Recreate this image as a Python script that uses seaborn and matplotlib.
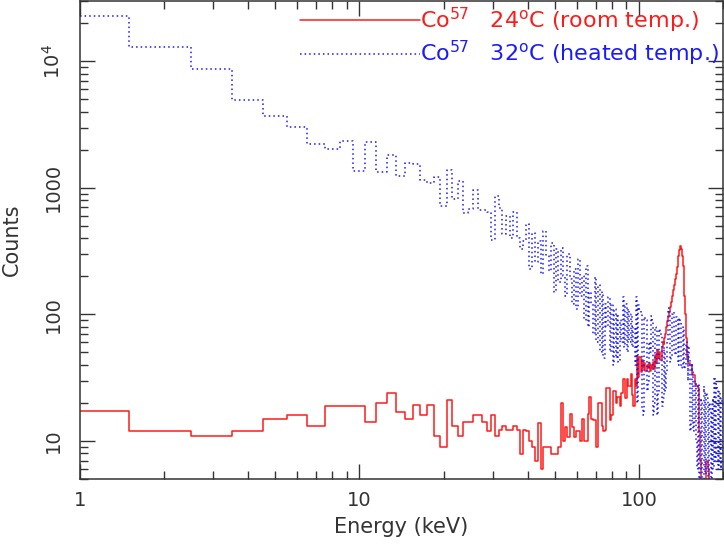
import numpy as np
import pandas as pd
import matplotlib
matplotlib.use('Agg')
import matplotlib.pyplot as plt
import seaborn as sns

# energy bins (keV), 1 keV wide, centred on integers
energy = list(range(1, 201))

# Co57 spectrum at 24 C (room temp.)
room_counts = [
    17.1, 12.0, 11.0, 12.0, 14.9, 15.9, 13.0, 18.9, 18.9, 18.9,
    14.0, 19.9, 24.0, 16.9, 14.9, 19.1, 16.0, 19.1, 10.9, 9.0,
    21.0, 13.0, 10.9, 14.0, 14.0, 16.0, 16.0, 14.0, 11.9, 16.0,
    10.9, 12.2, 13.1, 12.2, 12.2, 13.1, 12.2, 7.9, 12.2, 12.0,
    10.0, 9.0, 7.0, 13.9, 6.0, 9.0, 9.0, 9.0, 7.9, 7.9,
    7.9, 9.0, 20.0, 10.0, 12.9, 10.7, 16.3, 12.9, 10.7, 12.0,
    12.0, 10.0, 14.9, 10.0, 10.0, 16.3, 22.3, 15.0, 14.6, 14.6,
    9.0, 19.8, 19.8, 13.0, 12.0, 12.2, 26.0, 26.0, 14.5, 16.0,
    25.0, 25.0, 19.8, 22.3, 22.3, 19.0, 24.0, 31.0, 31.0, 22.0,
    31.0, 27.0, 27.0, 34.0, 23.0, 19.0, 31.0, 27.0, 46.0, 32.0,
    46, 35, 44, 38, 41, 36, 40, 38, 41, 36,
    40, 38, 42, 37, 48, 41, 52, 45, 50, 44,
    55, 60, 58, 65, 70, 80, 88, 95, 105, 115,
    125, 140, 155, 170, 190, 210, 235, 260, 290, 320,
    345, 330, 290, 240, 190, 140, 100, 65, 45, 42,
    41, 41, 40, 40, 34, 34, 33, 33, 28, 28,
    27, 27, 26, 22, 12, 7, 5.5, 4, 3, 3,
    3, 3, 3, 3, 7, 7, 6, 3, 3, 3,
    3, 3, 3, 3, 3, 3, 3, 3, 3, 3,
    3, 3, 3, 3, 3, 3, 3, 3, 3, 3,
]

# Co57 spectrum at 32 C (heated temp.)
heated_counts = [
    23000, 13000, 8700, 4950, 3730, 3030, 2210, 2030, 2350, 1370,
    2290, 1340, 1830, 1250, 1580, 1550, 1160, 1090, 1220, 720,
    1380, 810, 1130, 630, 680, 955, 670, 670, 650, 390,
    860, 690, 430, 600, 400, 640, 400, 330, 380, 520,
    230, 440, 260, 380, 210, 460, 290, 220, 370, 150,
    330, 180, 335, 200, 140, 300, 190, 120, 230, 110,
    275, 140, 200, 90, 240, 80, 150, 120, 70, 198,
    60, 170, 50, 150, 45, 120, 80, 137, 50, 120,
    40, 110, 45, 100, 42, 90, 60, 138, 55, 120,
    50, 110, 60, 100, 55, 80, 40, 138, 20, 119,
    110, 100, 18, 16, 95, 90, 25, 30, 60, 50,
    97, 90, 16, 20, 80, 75, 16, 25, 76, 70,
    19, 22, 55, 50, 25, 35, 60, 112, 105, 42,
    45, 100, 105, 50, 48, 95, 90, 45, 40, 94,
    85, 38, 40, 80, 75, 37, 40, 60, 50, 30,
    56, 45, 12, 14, 40, 35, 12, 14, 30, 30,
    10, 6, 28, 25, 5, 6, 22, 20, 5, 5,
    27, 25, 5.5, 6, 24, 22, 5, 6, 20, 18,
    5, 5, 20, 22, 6, 32, 30, 7, 7, 28,
    26, 8, 6, 25, 24, 7, 6, 22, 20, 8,
]

labels = ['Co$^{57}$   24$^{\\rm o}$C (room temp.)',
          'Co$^{57}$   32$^{\\rm o}$C (heated temp.)']
colors = ['#ff1a1a', '#1a1aff']

df = pd.DataFrame({'Energy': energy, 'room': room_counts, 'heated': heated_counts})

sns.set_style('ticks')
plt.rcParams['font.family'] = ['DejaVu Sans']
plt.rcParams['mathtext.default'] = 'regular'
text_col = '#333333'

fig = plt.figure(figsize=(7.24, 5.45), dpi=100)
ax = fig.add_axes([80 / 724, 66 / 545, 643 / 724, 478 / 545])
ax.set_xscale('log')
ax.set_yscale('log')

sns.lineplot(data=df, x='Energy', y='room', ax=ax, color=colors[0], lw=1.1,
             drawstyle='steps-mid', label=labels[0])
sns.lineplot(data=df, x='Energy', y='heated', ax=ax, color=colors[1], lw=1.1,
             linestyle=(0, (1, 2)), drawstyle='steps-mid', label=labels[1])

ax.set_xlim(1, 200)
ax.set_ylim(5, 30000)

ax.set_xticks([1, 10, 100])
ax.set_xticklabels(['1', '10', '100'])
ax.set_yticks([10, 100, 1000, 10000])
ax.set_yticklabels(['10', '100', '1000', '10$^4$'], rotation=90, va='center')

ax.tick_params(which='both', direction='in', top=True, right=True,
               colors=text_col, labelcolor=text_col)
ax.tick_params(which='major', length=11, width=1, labelsize=14)
ax.tick_params(which='minor', length=6, width=1)
ax.tick_params(axis='x', which='major', pad=9)
ax.tick_params(axis='y', which='major', pad=12)
for s in ax.spines.values():
    s.set_color(text_col)
    s.set_linewidth(1.1)

ax.set_xlabel('Energy (keV)', fontsize=15, color=text_col, labelpad=5)
ax.set_ylabel('Counts', fontsize=15, color=text_col, labelpad=14)

leg = ax.legend(loc='upper right', frameon=False, fontsize=16, handlelength=5.4,
                handletextpad=0.0, borderaxespad=0.0, borderpad=0.2,
                labelspacing=0.2, labelcolor='linecolor')

fig.savefig('out.png', dpi=100)
